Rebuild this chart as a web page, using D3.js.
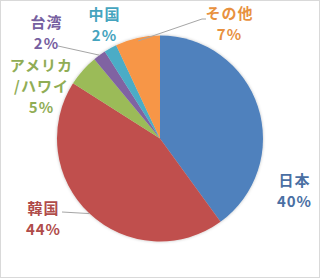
<!DOCTYPE html>
<html><head><meta charset="utf-8">
<script src="https://cdn.jsdelivr.net/npm/d3@7"></script>
<style>
html,body{margin:0;padding:0;background:#fff;}
svg{display:block;}
</style></head>
<body>
<script>
const categories = ["日本", "韓国", "アメリカ/ハワイ", "台湾", "中国", "その他"];
const values = [40, 44, 5, 2, 2, 7];
const labelLines = [["日本"], ["韓国"], ["アメリカ", "/ハワイ"], ["台湾"], ["中国"], ["その他"]];

const sliceColors = ["#4F81BD", "#C0504D", "#9BBB59", "#8064A2", "#4BACC6", "#F79646"];
const textColors = ["#4A6FA3", "#B04C4A", "#90AD55", "#7660A0", "#45A4BE", "#E8913F"];
// label layout (center x, center y of first line), leader line points
const labelPos = [[294, 179], [43, 207], [41, 64.5], [46, 21.5], [104, 13], [229, 12]];
const leaders = [null, [[62, 212]], null, [[58, 46]], null, [[202, 19], [206, 19]]];

const W = 320, H = 278, cx = 160, cy = 138.5, R = 103;

const svg = d3.select("body").append("svg").attr("width", W).attr("height", H);
svg.append("rect").attr("x", 0.5).attr("y", 0.5).attr("width", W - 1).attr("height", H - 1)
  .attr("fill", "#fff").attr("stroke", "#d9d9d9");

const defs = svg.append("defs");
const f = defs.append("filter").attr("id", "sh").attr("x", "-10%").attr("y", "-10%").attr("width", "120%").attr("height", "120%");
f.append("feDropShadow").attr("dx", 0).attr("dy", 0).attr("stdDeviation", 1.5).attr("flood-color", "#000").attr("flood-opacity", 0.25);

const data = categories.map((c, i) => ({ name: c, value: values[i], i }));
const pie = d3.pie().value(d => d.value).sort(null);
const arc = d3.arc().innerRadius(0).outerRadius(R);
const arcs = pie(data);

const g = svg.append("g").attr("transform", `translate(${cx},${cy})`);
g.append("g").attr("filter", "url(#sh)").selectAll("path").data(arcs).join("path")
  .attr("d", arc).attr("fill", d => sliceColors[d.data.i]);

// leader lines
arcs.forEach(a => {
  const pts = leaders[a.data.i];
  if (!pts) return;
  const ang = (a.startAngle + a.endAngle) / 2;
  const r = a.data.i === 5 ? R - 3 : R;
  const start = [cx + r * Math.sin(ang), cy - r * Math.cos(ang)];
  svg.append("path").attr("d", d3.line()([start, ...pts])).attr("fill", "none")
    .attr("stroke", "#a6a6a6").attr("stroke-width", 1);
});

// labels
arcs.forEach(a => {
  const i = a.data.i;
  const [x, y] = labelPos[i];
  const lines = [...labelLines[i], Math.round(a.data.value) + "%"];
  const t = svg.append("text").attr("text-anchor", "middle")
    .attr("font-family", "'Noto Sans CJK JP', 'Noto Sans', sans-serif")
    .attr("font-weight", "bold").attr("font-size", 15).attr("letter-spacing", 1)
    .attr("fill", textColors[i]);
  lines.forEach((ln, k) => {
    t.append("tspan").attr("x", x + 0.5).attr("y", y + k * 21).attr("dominant-baseline", "central").text(ln);
  });
});
</script>
</body></html>
